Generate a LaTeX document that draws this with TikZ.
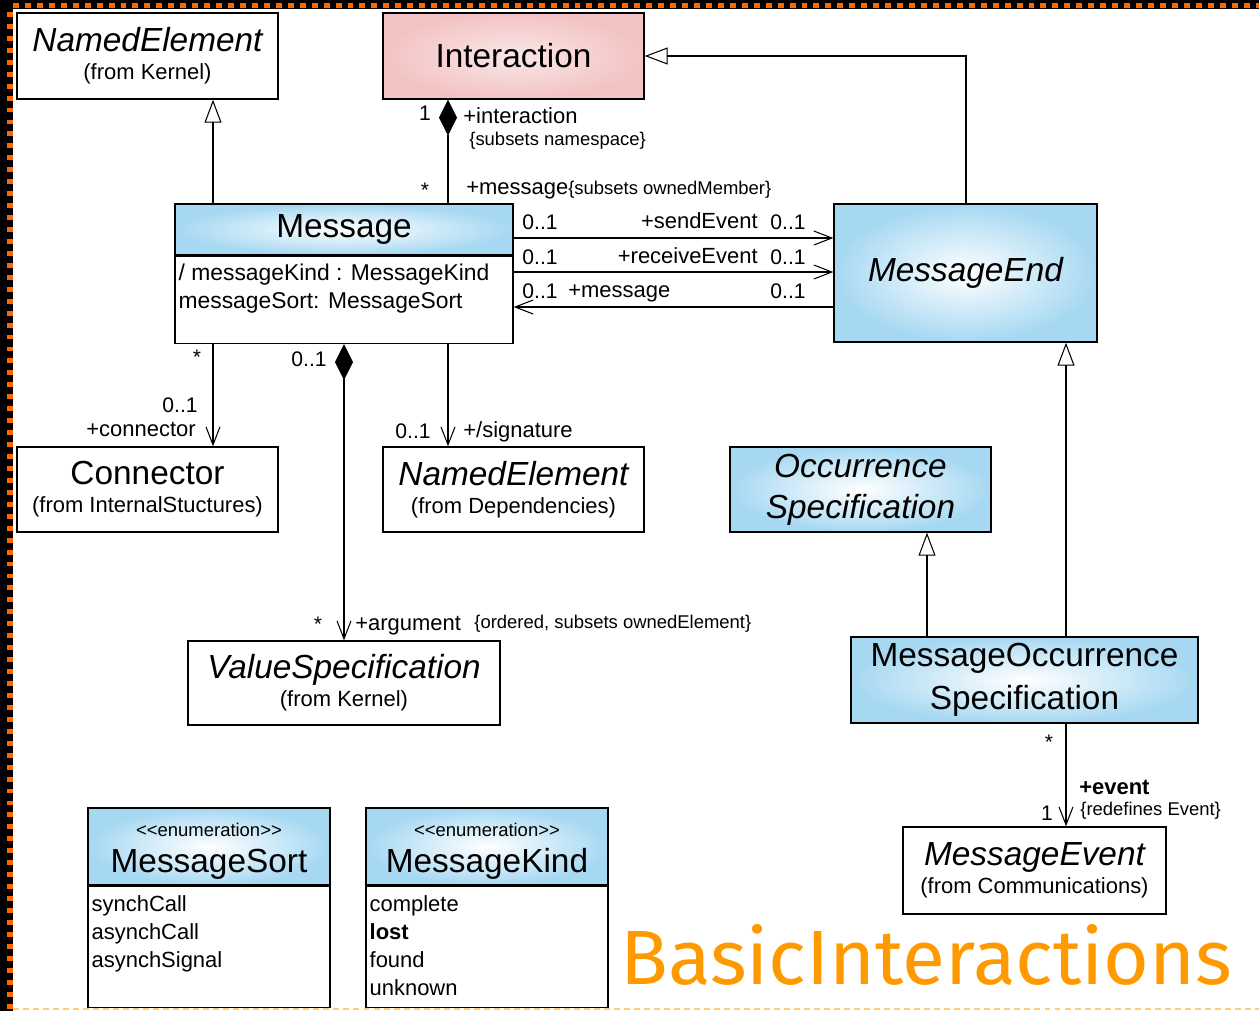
\documentclass[tikz,border=0pt]{standalone}
\usepackage{graphicx}
\usepackage{fontspec}
\setmainfont{Liberation Sans}
\newfontfamily\bannerfont{Fira Sans}
\usetikzlibrary{arrows.meta,positioning}

\definecolor{umlblue}{HTML}{A6D8F2}
\definecolor{umlpink}{HTML}{F3C3C3}
\definecolor{framered}{HTML}{FF6600}
\definecolor{banner}{HTML}{FF9900}

\newcommand{\pkg}[1]{{\normalfont\fontsize{12.5}{14}\selectfont (from #1)}}
\newcommand{\stereo}[1]{{\fontsize{10.5}{12}\selectfont\rule{0pt}{13pt}<{}<#1>{}>}}

\tikzset{
	cls/.style={draw, line width=0.8pt, inner sep=0pt, align=center, fill=white,
		font=\fontsize{19}{16}\selectfont},
	bluecls/.style={cls, inner color=white, outer color=umlblue},
	gen/.style={line width=0.6pt, -{Triangle[open,length=0.46cm,width=0.34cm]}},
	nav/.style={line width=0.6pt, -{Straight Barb[length=0.36cm,width=0.28cm]}},
	compo/.style={line width=0.6pt, {Diamond[length=0.72cm,width=0.36cm]}-},
	compnav/.style={line width=0.6pt, {Diamond[length=0.72cm,width=0.36cm]}-{Straight Barb[length=0.36cm,width=0.28cm]}},
	role/.style={font=\fontsize{12.5}{14}\selectfont, inner sep=0pt},
	mult/.style={font=\fontsize{12}{14}\selectfont, inner sep=0pt},
	cons/.style={font=\fontsize{10.5}{12}\selectfont, inner sep=0pt},
	items/.style={font=\fontsize{12.5}{15.8}\selectfont, inner sep=0pt, align=left, anchor=north west},
}

\begin{document}
\begin{tikzpicture}[x=0.02cm, y=-0.02cm]
	\useasboundingbox (0,0) rectangle (1259,1011);
	% frame
	\fill[black] (0,0) rectangle (1259,9);
	\fill[black] (0,0) rectangle (13,1011);
	\draw[framered, line width=2.9pt, dash pattern=on 3.4pt off 3.4pt] (13,5.5) -- (1259,5.5);
	\draw[framered, line width=3.4pt, dash pattern=on 2.8pt off 4pt] (10,12) -- (10,1011);
	\draw[banner!50, line width=1pt, dash pattern=on 3.4pt off 2.3pt] (13,1009) -- (1259,1009);

	% classes
	\node[cls, minimum width=5.22cm, minimum height=1.72cm] (nek) at (147.5,56) {\itshape NamedElement\\\pkg{Kernel}};
	\node[cls, inner color=umlpink!40, outer color=umlpink, minimum width=5.22cm, minimum height=1.72cm] (inter) at (513.5,56) {Interaction};
	\node[bluecls, minimum width=6.76cm, minimum height=1.02cm] (msg) at (344,229.5) {Message};
	\node[cls, minimum width=6.76cm, minimum height=1.74cm, anchor=north] (msgattr) at (msg.south) {};
	\node[items, font=\fontsize{13}{15.9}\selectfont] (msgattrs) at ([xshift=0.08cm,yshift=-0.16cm]msgattr.north west) {/ messageKind : MessageKind\\messageSort: MessageSort};
	\node[bluecls, minimum width=5.26cm, minimum height=2.76cm] (mend) at (965.5,273) {\itshape MessageEnd};
	\node[cls, minimum width=5.22cm, minimum height=1.70cm] (con) at (147.5,489.5) {Connector\\\pkg{InternalStuctures}};
	\node[cls, minimum width=5.22cm, minimum height=1.70cm] (ned) at (513.5,489.5) {\itshape NamedElement\\\pkg{Dependencies}};
	\node[bluecls, minimum width=5.22cm, minimum height=1.70cm] (occ) at (860.5,489.5) {\itshape Occurrence\\[7.2pt]\itshape Specification};
	\node[cls, minimum width=6.24cm, minimum height=1.68cm] (vsp) at (344,683) {\itshape ValueSpecification\\\pkg{Kernel}};
	\node[bluecls, minimum width=6.94cm, minimum height=1.72cm] (mos) at (1024.5,680) {MessageOccurrence\\[6pt]Specification};
	\node[cls, minimum width=5.26cm, minimum height=1.74cm] (mev) at (1034.5,870.5) {\itshape MessageEvent\\\pkg{Communications}};

	% enumerations
	\node[bluecls, minimum width=4.84cm, minimum height=1.54cm] (sorthd) at (209,846.5) {\stereo{enumeration}\\[5pt]MessageSort};
	\node[cls, minimum width=4.84cm, minimum height=2.42cm, anchor=north] (sortlit) at (sorthd.south) {};
	\node[items] (sortitems) at ([xshift=0.08cm,yshift=-0.2cm]sortlit.north west) {synchCall\\asynchCall\\asynchSignal};
	\node[bluecls, minimum width=4.84cm, minimum height=1.54cm] (kindhd) at (487,846.5) {\stereo{enumeration}\\[5pt]MessageKind};
	\node[cls, minimum width=4.84cm, minimum height=2.42cm, anchor=north] (kindlit) at (kindhd.south) {};
	\node[items] (kinditems) at ([xshift=0.08cm,yshift=-0.2cm]kindlit.north west) {complete\\\textbf{lost}\\found\\unknown};

	% connectors
	\draw[gen] (msg.north -| 213,0) -- (nek.south -| 213,0);
	\draw[compo] (inter.south -| 448,0) -- (msg.north -| 448,0);
	\draw[gen] (mend.north -| 966,0) |- (inter.east);
	\draw[nav] (msg.east |- 0,238) -- (mend.west |- 0,238);
	\draw[nav] (msgattr.east |- 0,272) -- (mend.west |- 0,272);
	\draw[nav] (mend.west |- 0,307) -- (msgattr.east |- 0,307);
	\draw[nav] (msgattr.south -| 213,0) -- (con.north -| 213,0);
	\draw[compnav] (msgattr.south -| 344,0) -- (vsp.north);
	\draw[nav] (msgattr.south -| 448,0) -- (ned.north -| 448,0);
	\draw[gen] (mos.north -| 927,0) -- (occ.south -| 927,0);
	\draw[gen] (mos.north -| 1066,0) -- (mend.south -| 1066,0);
	\draw[nav] (mos.south -| 1066,0) -- (mev.north -| 1066,0);

	% association ends
	\node[mult] (intm) at (425,113) {1};
	\node[role, anchor=west] (intr) at (463,116) {+interaction};
	\node[cons, anchor=west] (intc) at (469,141) {\{subsets namespace\}};
	\node[mult] (msgm) at (425,190) {*};
	\node[role, anchor=west] (msgr) at (466,190) {+message{\fontsize{10.5}{12}\selectfont\{subsets ownedMember\}}};
	\node[mult] (sendm1) at (540,222) {0..1};
	\node[role, anchor=east] (sendr) at (758,221) {+sendEvent};
	\node[mult] (sendm2) at (788,222) {0..1};
	\node[mult] (recm1) at (540,257) {0..1};
	\node[role, anchor=east] (recr) at (758,256) {+receiveEvent};
	\node[mult] (recm2) at (788,257) {0..1};
	\node[mult] (backm1) at (540,291) {0..1};
	\node[role, anchor=west] (backr) at (568,293) {+message};
	\node[mult] (backm2) at (788,291) {0..1};
	\node[mult] (conm1) at (197,357) {*};
	\node[mult] (conm2) at (180,405) {0..1};
	\node[role, anchor=east] (conr) at (196,430) {+connector};
	\node[mult] (argm1) at (309,359) {0..1};
	\node[mult] (argm2) at (318,624) {*};
	\node[role, anchor=west] (argr) at (355,626) {+argument};
	\node[cons, anchor=west] (argc) at (474,624) {\{ordered, subsets ownedElement\}};
	\node[mult] (sigm) at (413,431) {0..1};
	\node[role, anchor=west] (sigr) at (463,432) {+/signature};
	\node[mult] (evm1) at (1049,742) {*};
	\node[role, anchor=west, font=\fontsize{12.5}{14}\selectfont\bfseries] (evr) at (1079,787) {+event};
	\node[mult] (evm2) at (1047,813) {1};
	\node[cons, anchor=west] (evc) at (1080,811) {\{redefines Event\}};

	% package title
	\node[anchor=west, text=banner, inner sep=0pt] (title) at (620,955) {\resizebox{12.24cm}{1.2cm}{\bannerfont BasicInteractions}};
\end{tikzpicture}
\end{document}
